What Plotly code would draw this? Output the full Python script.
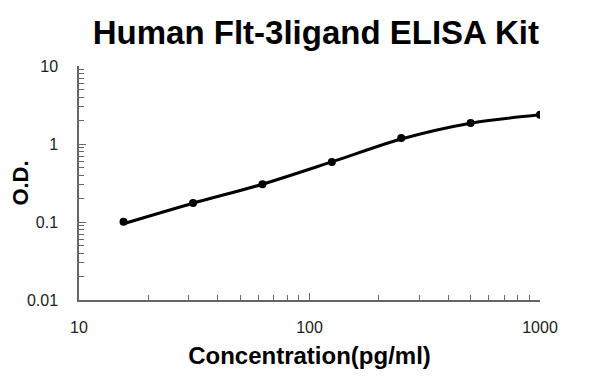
import plotly.graph_objects as go

conc = [15.6, 31.25, 62.5, 125, 250, 500, 1000]
od = [0.101, 0.175, 0.305, 0.587, 1.19, 1.86, 2.38]
fit_od = [0.095, 0.174, 0.305, 0.59, 1.16, 1.85, 2.37]

x_ticks = [10, 100, 1000]
x_labels = ["10", "100", "1000"]
y_ticks = [0.01, 0.1, 1, 10]
y_labels = ["0.01", "0.1", "1", "10"]

x_minor = [m * d for d in (10, 100) for m in range(2, 10)]
y_minor = [m * d for d in (0.01, 0.1, 1) for m in range(2, 10)]

FONT = "Liberation Sans, Arial, sans-serif"
AX = "#666666"

fig = go.Figure()
fig.add_trace(go.Scatter(x=conc, y=fit_od, mode="lines",
                         line=dict(color="black", width=3, shape="spline", smoothing=0.8),
                         hoverinfo="skip", showlegend=False))
fig.add_trace(go.Scatter(x=conc, y=od, mode="markers",
                         marker=dict(color="black", size=8),
                         showlegend=False))

# page has an 8px body margin, so the figure is drawn 8px right/down
fig.update_layout(
    width=592, height=377,
    margin=dict(l=71, r=60, t=58, b=85, autoexpand=False),
    paper_bgcolor="white", plot_bgcolor="white",
    font=dict(family=FONT, color="black"),
    title=dict(text="<b>Human Flt-3ligand ELISA Kit</b>", x=0.52, xanchor="center",
               y=0.935, yanchor="middle", font=dict(size=33, family=FONT, color="black")),
)
fig.update_xaxes(type="log", range=[1, 3], tickvals=x_ticks, ticktext=x_labels,
                 showgrid=False, showline=True, linecolor=AX, linewidth=1.5,
                 ticks="inside", ticklen=7, tickcolor=AX, ticklabelstandoff=12,
                 minor=dict(tickvals=x_minor, ticks="inside", ticklen=5, tickcolor=AX, showgrid=False),
                 tickfont=dict(size=16, color="#222"), zeroline=False, automargin=False,
                 title=dict(text="<b>Concentration(pg/ml)</b>", font=dict(size=24), standoff=12))
fig.update_yaxes(type="log", range=[-2, 1], tickvals=y_ticks, ticktext=y_labels,
                 showgrid=False, showline=True, linecolor=AX, linewidth=1.5,
                 ticks="inside", ticklen=7, tickcolor=AX, ticklabelstandoff=16,
                 minor=dict(tickvals=y_minor, ticks="inside", ticklen=5, tickcolor=AX, showgrid=False),
                 tickfont=dict(size=16, color="#222"), zeroline=False, automargin=False,
                 title=dict(text="<b>O.D.</b>", font=dict(size=22), standoff=19))

fig.write_html("out.html")
